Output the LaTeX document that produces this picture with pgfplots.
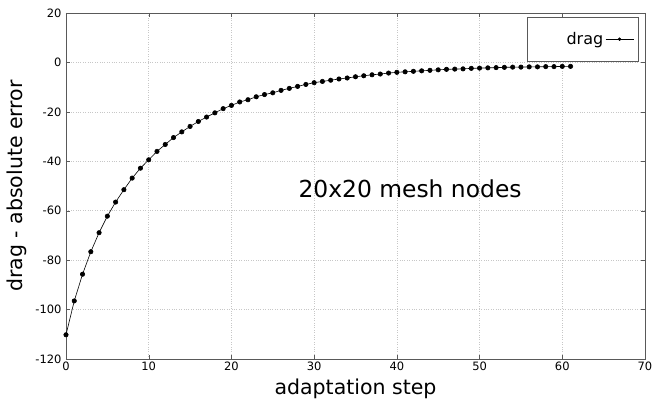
\documentclass[border=0pt]{standalone}
\usepackage{fontspec}
\setmainfont{DejaVu Sans}
\usepackage{pgfplots}
\pgfplotsset{compat=1.18}
\begin{document}
\begin{tikzpicture}[x=1pt,y=1pt]
\begin{axis}[
  scale only axis,
  width=579pt, height=346pt,
  at={(0pt,0pt)}, anchor=south west,
  xmin=0, xmax=70, ymin=-120, ymax=20,
  xtick distance=10, ytick distance=20,
  tick align=inside,
  major tick length=4pt,
  axis line style={black!65},
  every tick/.style={black!65},
  grid=major,
  major grid style={black!22, dotted, line width=0.5pt},
  /pgf/number format/assume math mode=true,
  ticklabel style={font=\fontsize{11.5}{13}\selectfont},
  yticklabel style={xshift=-1pt},
  xticklabel style={yshift=1pt},
  xlabel={adaptation step},
  ylabel={drag - absolute error},
  every axis x label/.style={at={(axis description cs:0.5,0)}, anchor=center, yshift=-30pt, font=\fontsize{20.5}{24}\selectfont},
  every axis y label/.style={at={(axis description cs:-0.0846,0.5)}, anchor=center, rotate=90, font=\fontsize{20.5}{24}\selectfont},
  legend plot pos=right,
  legend style={at={(axis description cs:0.988,0.988)}, anchor=north east, draw=black!65, font=\fontsize{16}{19}\selectfont, inner xsep=4pt, inner ysep=13pt, nodes={text width=70pt, align=right}},
  legend image code/.code={\draw[black, line width=0.6pt] (0pt,0pt) -- (28pt,0pt); \fill[black] (14pt,0pt) circle (1.4pt);},
]
\addplot[black, line width=0.6pt, mark=*, mark size=2.2pt] coordinates {
(0,-110.2) (1,-96.5) (2,-85.7) (3,-76.6) (4,-68.9) (5,-62.2) (6,-56.5) (7,-51.5)
(8,-46.8) (9,-42.8) (10,-39.4) (11,-36.0) (12,-33.2) (13,-30.4) (14,-28.1) (15,-25.9)
(16,-23.9) (17,-22.1) (18,-20.4) (19,-18.7) (20,-17.4) (21,-16.0) (22,-15.1) (23,-13.9)
(24,-13.0) (25,-12.3) (26,-11.3) (27,-10.5) (28,-9.7) (29,-8.9) (30,-8.2) (31,-7.7)
(32,-7.2) (33,-6.7) (34,-6.3) (35,-5.8) (36,-5.4) (37,-5.0) (38,-4.7) (39,-4.3)
(40,-4.0) (41,-3.8) (42,-3.6) (43,-3.4) (44,-3.2) (45,-3.0) (46,-2.8) (47,-2.7)
(48,-2.6) (49,-2.4) (50,-2.3) (51,-2.2) (52,-2.1) (53,-2.0) (54,-1.9) (55,-1.9)
(56,-1.8) (57,-1.8) (58,-1.7) (59,-1.7) (60,-1.6) (61,-1.6)
};
\addlegendentry{drag}
\node[font=\fontsize{23.4}{28}\selectfont, anchor=center] at (axis cs:41.6,-51) {20x20 mesh nodes};
\end{axis}
\pgfresetboundingbox
\path[use as bounding box] (-66pt,-42pt) rectangle (588pt,359pt);
\end{tikzpicture}
\end{document}
